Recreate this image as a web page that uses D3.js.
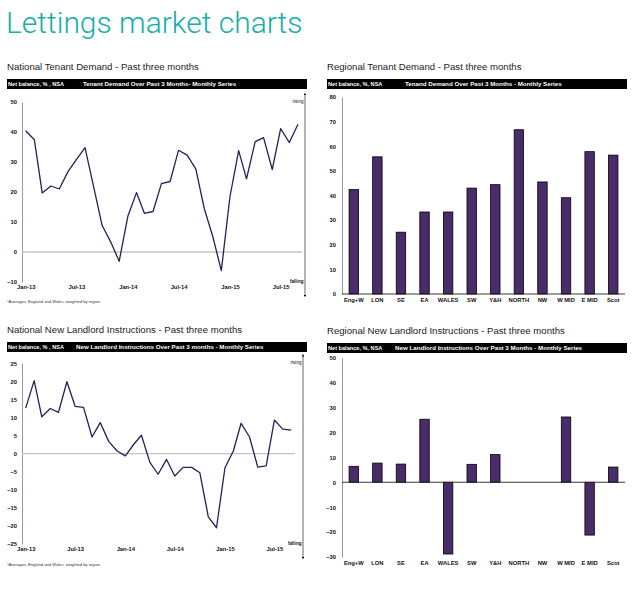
<!DOCTYPE html>
<html>
<head>
<meta charset="utf-8">
<script src="https://cdn.jsdelivr.net/npm/d3@7"></script>
<style>
  body { margin: 0; background: #fff; }
  svg { display: block; }
  text { font-family: "Liberation Sans", Arial, sans-serif; }
</style>
</head>
<body>
<div id="chart"></div>
<script>

// monthly series, Jan-13 .. Sep-15
var startMonth = new Date(2013, 0, 1),
    endMonth = new Date(2015, 8, 1),
    months = d3.timeMonths(startMonth, new Date(2015, 9, 1));

var tenantDemand = [40.4, 37.4, 19.7, 22.0, 21.0, 26.8, 30.8, 34.8, 21.6, 8.9, 3.3, -3.1,
                    11.9, 19.8, 12.9, 13.5, 22.8, 23.5, 33.9, 32.3, 27.6, 14.5, 5.0, -6.2,
                    18.5, 33.8, 24.4, 36.8, 38.1, 27.5, 41.1, 36.5, 42.6];

var landlordInstructions = [12.6, 20.2, 10.2, 12.5, 11.4, 19.9, 13.1, 12.8, 4.6, 8.6, 3.4, 0.8,
                            -0.6, 2.6, 5.1, -2.4, -5.7, -1.6, -6.2, -3.8, -3.8, -5.3, -17.5, -20.5,
                            -3.9, 0.8, 8.4, 4.6, -3.7, -3.4, 9.3, 6.8, 6.5];

var regions = ["Eng+W", "LON", "SE", "EA", "WALES", "SW", "Y&H", "NORTH", "NW", "W MID", "E MID", "Scot"];
var regionalDemand = [42.4, 55.7, 25.1, 33.3, 33.3, 43.0, 44.4, 66.7, 45.5, 39.1, 57.8, 56.4];
var regionalLandlord = [6.4, 7.7, 7.3, 25.3, -28.8, 7.2, 11.1, 0, 0, 26.2, -21.2, 6.1];

var demandTicks = [-10, 0, 10, 20, 30, 40, 50],
    landlordTicks = [-25, -20, -15, -10, -5, 0, 5, 10, 15, 20, 25],
    regDemandTicks = [0, 10, 20, 30, 40, 50, 60, 70, 80],
    regLandlordTicks = [-30, -20, -10, 0, 10, 20, 30, 40, 50];

var lineColor = "#2c1d5a",
    barColor = "#4a2c6b",
    teal = "#17aea8";

var svg = d3.select("#chart").append("svg")
    .attr("width", 640)
    .attr("height", 597);

svg.append("text")
    .attr("x", 6)
    .attr("y", 33)
    .style("font-family", "Roboto, sans-serif")
    .style("font-weight", 300)
    .style("font-size", "30px")
    .attr("fill", teal)
    .text("Lettings market charts");

svg.append("defs").append("marker")
    .attr("id", "arrow")
    .attr("viewBox", "0 0 6 6")
    .attr("refX", 3).attr("refY", 3)
    .attr("markerWidth", 4).attr("markerHeight", 4)
    .attr("orient", "auto-start-reverse")
    .append("path")
    .attr("d", "M0,0 L6,3 L0,6 Z")
    .attr("fill", "#000");

function header (x, y, subtitle, unit, series, seriesX) {
  var g = svg.append("g").attr("transform", "translate(" + x + "," + y + ")");
  g.append("text")
    .attr("x", 0).attr("y", 0)
    .style("font-size", "9.6px")
    .attr("fill", "#222")
    .text(subtitle);
  g.append("rect")
    .attr("x", 0).attr("y", 9)
    .attr("width", 300).attr("height", 10)
    .attr("fill", "#000");
  g.append("text")
    .attr("x", 1).attr("y", 16.2)
    .style("font-size", "5.6px").style("font-weight", "bold")
    .attr("fill", "#fff")
    .text(unit);
  g.append("text")
    .attr("x", seriesX).attr("y", 16.4)
    .style("font-size", "6.2px").style("font-weight", "bold")
    .attr("fill", "#fff")
    .text(series);
}

function lineChart (opts) {
  var x = d3.scaleTime().domain([startMonth, endMonth]).range(opts.xRange),
      y = d3.scaleLinear().domain(d3.extent(opts.ticks)).range(opts.yRange);

  var g = svg.append("g");

  var yAxis = d3.axisLeft(y).tickValues(opts.ticks).tickSize(0).tickPadding(5);
  var ya = g.append("g")
      .attr("transform", "translate(" + opts.axisX + ",0)")
      .call(yAxis);
  ya.select(".domain").attr("stroke", "#999").attr("stroke-width", 1);
  ya.selectAll("text").style("font-size", "5.8px").style("font-weight", "bold")
    .style("font-family", "Liberation Sans, Arial, sans-serif").attr("fill", "#111");

  var xAxis = d3.axisBottom(x).ticks(d3.timeMonth.every(6)).tickSize(0).tickPadding(3)
      .tickFormat(function (d, i) { return opts.tickLabels[i]; });
  var xa = g.append("g")
      .attr("transform", "translate(0," + opts.yRange[0] + ")")
      .call(xAxis);
  xa.select(".domain").remove();
  xa.selectAll("text").style("font-size", "5.8px").style("font-weight", "bold")
    .style("font-family", "Liberation Sans, Arial, sans-serif").attr("fill", "#111");

  g.append("line")
    .attr("x1", opts.axisX).attr("x2", opts.zeroEnd)
    .attr("y1", y(0)).attr("y2", y(0))
    .attr("stroke", "#c4c4c4").attr("stroke-width", 1.4);

  g.append("path")
    .datum(opts.values)
    .attr("fill", "none")
    .attr("stroke", lineColor)
    .attr("stroke-width", 1.3)
    .attr("stroke-linejoin", "round")
    .attr("d", d3.line()
      .x(function (d, i) { return x(months[i]); })
      .y(function (d) { return y(d); }));

  // rising / falling indicator
  g.append("line")
    .attr("x1", opts.arrowX).attr("x2", opts.arrowX)
    .attr("y1", opts.yRange[1] - 8).attr("y2", opts.yRange[0] + 14)
    .attr("stroke", "#000").attr("stroke-width", 0.6)
    .attr("marker-start", "url(#arrow)")
    .attr("marker-end", "url(#arrow)");
  g.append("text")
    .attr("x", opts.arrowX - 1.5).attr("y", opts.yRange[1] + 1)
    .attr("text-anchor", "end")
    .style("font-size", "4.6px").attr("fill", "#111")
    .text("rising");
  g.append("text")
    .attr("x", opts.arrowX - 1.5).attr("y", opts.yRange[0] + 0.5)
    .attr("text-anchor", "end")
    .style("font-size", "4.6px").style("font-weight", "bold").attr("fill", "#111")
    .text("falling");

  g.append("text")
    .attr("x", 7).attr("y", opts.noteY)
    .style("font-size", "4.1px").attr("fill", "#333")
    .text("*Averages, England and Wales, weighted by region");
}

function barChart (opts) {
  var x = d3.scaleBand().domain(regions).range(opts.xRange).paddingInner(0.6).paddingOuter(0.3),
      y = d3.scaleLinear().domain(d3.extent(opts.ticks)).range(opts.yRange);

  var g = svg.append("g");

  var yAxis = d3.axisLeft(y).tickValues(opts.ticks).tickSize(0).tickPadding(6);
  var ya = g.append("g")
      .attr("transform", "translate(" + opts.xRange[0] + ",0)")
      .call(yAxis);
  ya.select(".domain").attr("stroke", "#999").attr("stroke-width", 1);
  ya.selectAll("text").style("font-size", "5.8px").style("font-weight", "bold")
    .style("font-family", "Liberation Sans, Arial, sans-serif").attr("fill", "#111");

  g.selectAll(".bar")
    .data(opts.values)
  .enter().append("rect")
    .attr("class", "bar")
    .attr("x", function (d, i) { return x(regions[i]); })
    .attr("width", x.bandwidth())
    .attr("y", function (d) { return y(Math.max(0, d)); })
    .attr("height", function (d) { return Math.abs(y(d) - y(0)); })
    .attr("fill", barColor)
    .attr("stroke", "#000")
    .attr("stroke-width", 0.8);

  g.append("line")
    .attr("x1", opts.xRange[0]).attr("x2", opts.xRange[1])
    .attr("y1", y(0)).attr("y2", y(0))
    .attr("stroke", "#222").attr("stroke-width", 0.9);

  var xAxis = d3.axisBottom(x).tickSize(0).tickPadding(4);
  var xa = g.append("g")
      .attr("transform", "translate(0," + opts.labelY + ")")
      .call(xAxis);
  xa.select(".domain").remove();
  xa.selectAll("text").style("font-size", "5.8px").style("font-weight", "bold")
    .style("font-family", "Liberation Sans, Arial, sans-serif").attr("fill", "#111");
}

header(7, 70, "National Tenant Demand - Past three months", "Net balance, % , NSA",
       "Tenant Demand Over Past 3 Months- Monthly Series", 76);
header(327, 70, "Regional Tenant Demand - Past three months", "Net balance, %, NSA",
       "Tenand Demand Over Past 3 Months - Monthly Series", 78);
header(7, 333, "National New Landlord Instructions - Past three months", "Net balance, % , NSA",
       "New Landlord Instructions Over Past 3 months - Monthly Series", 69);
header(327, 334, "Regional New Landlord Instructions - Past three months", "Net balance, %, NSA",
       "New Landlord Instructions Over Past 3 Months - Monthly Series", 68);

lineChart({
  values: tenantDemand,
  ticks: demandTicks,
  tickLabels: ["Jan-13", "Jul-13", "Jan-14", "Jul-14", "Jan-15", "Jul-15"],
  xRange: [25.7, 298],
  yRange: [282, 102],
  axisX: 22,
  zeroEnd: 302,
  arrowX: 305,
  noteY: 303
});

lineChart({
  values: landlordInstructions,
  ticks: landlordTicks,
  tickLabels: ["Jan-13", "Jul-13", "Jan-14", "Jul-14", "Jan-15", "Jul-15"],
  xRange: [25.7, 291.3],
  yRange: [544, 363.3],
  axisX: 22,
  zeroEnd: 295,
  arrowX: 303,
  noteY: 566
});

barChart({
  values: regionalDemand,
  ticks: regDemandTicks,
  xRange: [342, 625],
  yRange: [294, 97],
  labelY: 294
});

barChart({
  values: regionalLandlord,
  ticks: regLandlordTicks,
  xRange: [342, 625],
  yRange: [557, 357.7],
  labelY: 557
});

</script>
</body>
</html>
